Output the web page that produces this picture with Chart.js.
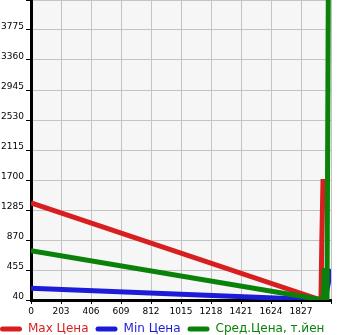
<!DOCTYPE html>
<html>
<head>
<meta charset="utf-8">
<script src="https://cdn.jsdelivr.net/npm/chart.js@4/dist/chart.umd.min.js"></script>
<style>
  html, body { margin: 0; padding: 0; background: #fff; }
  #wrap { width: 345px; height: 335px; }
</style>
</head>
<body>
<div id="wrap"><canvas id="priceChart"></canvas></div>
<script>
// axis ticks
const xTicks = [0, 203, 406, 609, 812, 1015, 1218, 1421, 1624, 1827, 2030];
const yTicks = [40, 455, 870, 1285, 1700, 2115, 2530, 2945, 3360, 3775, 4190];

// series
const seriesNames = ["Max Цена", "Min Цена", "Сред.Цена, т.йен"];
const seriesColors = ["#d81f1f", "#1c1cd8", "#0a820a"];

const maxX = [0, 1962, 1968, 1976];
const maxY = [1385, 40, 870, 1714];

const minX = [0, 1990, 2030];
const minY = [202, 40, 470];

const avgX = [0, 1978, 1985, 2003, 2012];
const avgY = [722, 40, 480, 40, 4400];

const toPoints = (xs, ys) => xs.map((x, i) => ({ x: x, y: ys[i] }));

const plotBg = {
  id: "plotBg",
  beforeDraw: (chart) => {
    const { ctx, chartArea: a } = chart;
    ctx.save();
    ctx.fillStyle = "#f6f6f6";
    ctx.fillRect(a.left, a.top, a.right - a.left, a.bottom - a.top);
    ctx.restore();
  }
};

const tickFont = { family: "DejaVu Sans", size: 9 };
const hideLast = (v, i, ticks) => (i === ticks.length - 1 ? "" : v);

const makeSet = (idx, pts, order) => ({
  label: seriesNames[idx],
  data: pts,
  borderColor: seriesColors[idx],
  backgroundColor: seriesColors[idx],
  borderWidth: 5,
  pointRadius: 0,
  tension: 0,
  fill: false,
  order: order
});

new Chart(document.getElementById("priceChart"), {
  type: "line",
  data: {
    datasets: [
      makeSet(0, toPoints(maxX, maxY), 1),
      makeSet(1, toPoints(minX, minY), 2),
      makeSet(2, toPoints(avgX, avgY), 0)
    ]
  },
  options: {
    responsive: true,
    maintainAspectRatio: false,
    animation: false,
    layout: { padding: { left: -7, right: 0, top: 0, bottom: -10 } },
    plugins: {
      tooltip: { enabled: false },
      legend: {
        position: "bottom",
        align: "start",
        labels: {
          boxWidth: 22,
          boxHeight: 5,
          useBorderRadius: true,
          borderRadius: 2.5,
          padding: 7,
          font: { family: "DejaVu Sans", size: 12 },
          sort: (a, b) => a.datasetIndex - b.datasetIndex,
          generateLabels: (chart) => chart.data.datasets.map((ds, i) => ({
            text: ds.label,
            fillStyle: ds.borderColor,
            strokeStyle: ds.borderColor,
            lineWidth: 0,
            fontColor: ds.borderColor,
            borderRadius: 2.5,
            datasetIndex: i,
            hidden: false
          }))
        }
      }
    },
    scales: {
      x: {
        type: "linear",
        min: 0,
        max: 2030,
        afterBuildTicks: (s) => { s.ticks = xTicks.map(v => ({ value: v })); },
        afterFit: (s) => { s.height = 16; s.paddingLeft = 0; s.paddingRight = 0; },
        ticks: { font: tickFont, color: "#000", padding: 2, maxRotation: 0, autoSkip: false, callback: hideLast },
        grid: { color: "#c4c4c4", tickColor: "#000", tickLength: 4 },
        border: { color: "#000", width: 3 }
      },
      y: {
        type: "linear",
        min: 40,
        max: 4190,
        afterBuildTicks: (s) => { s.ticks = yTicks.map(v => ({ value: v })); },
        afterFit: (s) => { s.width = 38; s.paddingTop = 0; s.paddingBottom = 0; },
        ticks: { font: tickFont, color: "#000", padding: 2, labelOffset: -3, autoSkip: false, callback: hideLast },
        grid: { color: "#c4c4c4", tickColor: "#000", tickLength: 5 },
        border: { color: "#000", width: 3 }
      },
      yRight: {
        type: "linear",
        position: "right",
        min: 40,
        max: 4190,
        afterFit: (s) => { s.width = 14; s.paddingTop = 0; s.paddingBottom = 0; },
        ticks: { display: false },
        grid: { display: false },
        border: { display: false }
      }
    }
  },
  plugins: [plotBg]
});
</script>
</body>
</html>
